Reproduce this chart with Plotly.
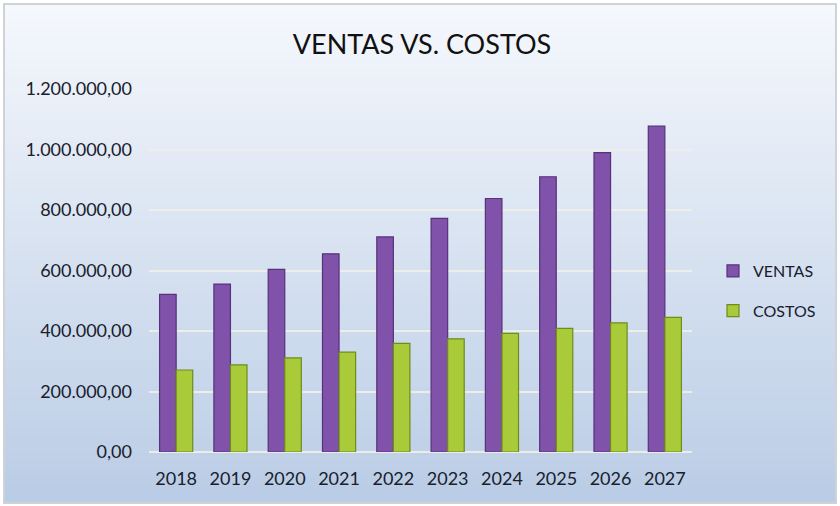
import plotly.graph_objects as go

years = ["2018", "2019", "2020", "2021", "2022", "2023", "2024", "2025", "2026", "2027"]
ventas = [521000, 555000, 604000, 655000, 711000, 772000, 838000, 910000, 990000, 1077000]
costos = [271000, 288000, 311000, 330000, 359000, 374000, 392000, 409000, 427000, 445000]
y_ticks = [0, 200000, 400000, 600000, 800000, 1000000, 1200000]

FONT = "Lato"
TXT = "#18202c"

fig = go.Figure()
fig.add_trace(go.Bar(x=years, y=ventas, name="VENTAS", legendgroup="v",
                     marker=dict(color="#8052aa", line=dict(color="#57327c", width=1.2))))
fig.add_trace(go.Bar(x=years, y=costos, name="COSTOS", legendgroup="c",
                     marker=dict(color="#a9cb3a", line=dict(color="#6e8b1c", width=1.2))))

# plot area in pixels
L, R, T, B = 149, 692, 89, 452
W, H = R - L, B - T
def px(x):
    return (x - L) / W
def py(y):
    return (B - y) / H

shapes = []
top_c = (245, 248, 253)
bot_c = (186, 205, 230)
y_start, y_end = 4, 503
n = 60
for i in range(n):
    a = y_start + (y_end - y_start) * i / n
    b = y_start + (y_end - y_start) * (i + 1) / n
    t = i / (n - 1)
    c = tuple(int(top_c[k] + (bot_c[k] - top_c[k]) * t) for k in range(3))
    shapes.append(dict(type="rect", xref="paper", yref="paper",
                       x0=px(4), x1=px(836), y0=py(b), y1=py(a) + 0.002,
                       fillcolor="rgb(%d,%d,%d)" % c, line=dict(width=0), layer="below"))
shapes.append(dict(type="rect", xref="paper", yref="paper",
                   x0=px(4), x1=px(836), y0=py(503), y1=py(4),
                   fillcolor="rgba(0,0,0,0)", line=dict(color="#cfd3d8", width=2), layer="below"))

fig.update_layout(
    width=840, height=506,
    margin=dict(l=L, r=840 - R, t=T, b=506 - B),
    paper_bgcolor="white", plot_bgcolor="rgba(0,0,0,0)",
    separators=",.",
    barmode="group", bargap=0.39, bargroupgap=0.0,
    title=dict(text="VENTAS VS. COSTOS", x=422 / 840, xanchor="center",
               y=1 - 45 / 506, yanchor="middle",
               font=dict(family=FONT, size=27, color="#111111")),
    font=dict(family=FONT, size=17, color=TXT),
    xaxis=dict(showgrid=False, zeroline=False, showline=False, ticks="",
               ticklabelstandoff=14,
               tickfont=dict(family=FONT, size=18, color=TXT)),
    yaxis=dict(range=[0, 1200000], tickvals=y_ticks, tickformat=",.2f",
               showgrid=True, gridcolor="rgba(240,240,232,0.9)", gridwidth=2,
               zeroline=True, zerolinecolor="rgba(240,240,232,0.9)", zerolinewidth=2,
               showline=False, ticks="", ticklen=0, ticklabelstandoff=16,
               tickfont=dict(family=FONT, size=18, color=TXT)),
    legend=dict(x=px(713), y=py(254), xanchor="left", yanchor="top",
                bgcolor="rgba(0,0,0,0)", tracegroupgap=16,
                font=dict(family=FONT, size=16, color=TXT)),
    shapes=shapes,
    showlegend=True,
)

fig.write_html("out.html")
